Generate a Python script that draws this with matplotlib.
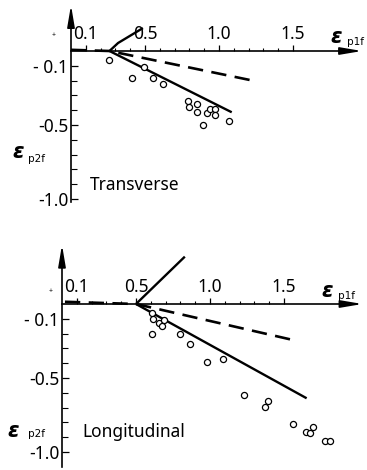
import matplotlib
matplotlib.use("Agg")
import matplotlib.pyplot as plt
import numpy as np

plt.rcParams['font.family'] = ['Noto Sans', 'DejaVu Sans']
plt.rcParams['font.stretch'] = 'condensed'
plt.rcParams['font.weight'] = 'light'

# Transverse panel (top)
tr_upper_x = [0.26, 0.318, 0.486]
tr_upper_y = [0.0, 0.054, 0.155]
tr_solid_x = [0.26, 1.086]
tr_solid_y = [0.0, -0.414]
tr_dash_x = [0.0, 0.26, 1.209]
tr_dash_y = [0.008, 0.0, -0.196]
tr_pts_x = [0.26, 0.41, 0.49, 0.556, 0.62, 0.79, 0.80, 0.85, 0.85, 0.89,
            0.92, 0.94, 0.97, 0.97, 1.07]
tr_pts_y = [-0.06, -0.18, -0.11, -0.18, -0.22, -0.34, -0.38, -0.36, -0.41, -0.50,
            -0.42, -0.39, -0.39, -0.43, -0.47]

# Longitudinal panel (bottom)
lo_upper_x = [0.5, 0.83]
lo_upper_y = [0.0, 0.32]
lo_solid_x = [0.5, 1.653]
lo_solid_y = [0.0, -0.637]
lo_dash_x = [0.02, 0.5, 1.56]
lo_dash_y = [0.015, 0.0, -0.243]
lo_pts_x = [0.61, 0.617, 0.657, 0.673, 0.691, 0.606, 0.797, 0.865, 0.977, 1.09,
            1.232, 1.372, 1.394, 1.563, 1.646, 1.676, 1.698, 1.777, 1.811]
lo_pts_y = [-0.063, -0.104, -0.126, -0.149, -0.108, -0.203, -0.205, -0.272, -0.39, -0.374,
            -0.615, -0.694, -0.655, -0.81, -0.867, -0.869, -0.829, -0.924, -0.924]

xmajor = [0.1, 0.5, 1.0, 1.5]
xmajor_labels = ['0.1', '0.5', '1.0', '1.5']
xminor = [0.2, 0.3, 0.4, 0.6, 0.7, 0.8, 0.9, 1.1, 1.2, 1.3, 1.4]
ymajor = [-0.1, -0.5, -1.0]
ymajor_labels = ['- 0.1', '-0.5', '-1.0']
yminor = [-0.2, -0.3, -0.4, -0.6, -0.7, -0.8, -0.9]

fig = plt.figure(figsize=(3.67, 4.70), dpi=100)
ax1 = fig.add_axes([0, 0.5, 1, 0.5])
ax1.set_xlim(-71 / 148, (367 - 71) / 148)
ax1.set_ylim((51 - 235) / 148, 51 / 148)
ax2 = fig.add_axes([0, 0, 1, 0.5])
ax2.set_xlim(-62 / 148, (367 - 62) / 148)
ax2.set_ylim((304 - 470) / 148, (304 - 235) / 148)


def setup(ax, xend, ytop, ybot):
    ax.patch.set_alpha(0)
    for s in ['right', 'bottom']:
        ax.spines[s].set_visible(False)
    ax.spines['top'].set_position(('data', 0))
    ax.spines['top'].set_bounds(0, xend - 0.1)
    ax.spines['left'].set_position(('data', 0))
    ax.spines['left'].set_bounds(ybot, ytop - 0.1)
    ax.spines['top'].set_linewidth(1.2)
    ax.spines['left'].set_linewidth(1.2)
    ax.xaxis.set_ticks_position('top')
    ax.yaxis.set_ticks_position('left')
    ax.set_xticks(xmajor, xmajor_labels)
    ax.set_xticks(xminor, minor=True)
    ax.set_yticks(ymajor, ymajor_labels)
    ax.set_yticks(yminor, minor=True)
    ax.tick_params(axis='x', which='major', direction='out', length=4, width=0.9,
                   pad=1.5, labelsize=12.5)
    ax.tick_params(axis='x', which='minor', direction='out', length=2.5, width=0.8)
    ax.tick_params(axis='y', which='major', direction='in', length=5, width=0.9,
                   pad=2, labelsize=12.5)
    ax.tick_params(axis='y', which='minor', direction='in', length=4, width=0.8)
    arrow = dict(arrowstyle='-|>,head_length=1.3,head_width=0.22', mutation_scale=10,
                 color='k', lw=1.2, shrinkA=0, shrinkB=0)
    ax.annotate('', xy=(xend, 0), xytext=(xend - 0.15, 0), arrowprops=arrow)
    ax.annotate('', xy=(0, ytop), xytext=(0, ytop - 0.15), arrowprops=arrow)


setup(ax1, 1.966, 0.31, -1.02)
setup(ax2, 2.03, 0.40, -1.10)

for ax, ux, uy, sx, sy, dx, dy, px, py in [
        (ax1, tr_upper_x, tr_upper_y, tr_solid_x, tr_solid_y, tr_dash_x, tr_dash_y, tr_pts_x, tr_pts_y),
        (ax2, lo_upper_x, lo_upper_y, lo_solid_x, lo_solid_y, lo_dash_x, lo_dash_y, lo_pts_x, lo_pts_y)]:
    ax.plot(ux, uy, color='k', lw=1.7, solid_capstyle='butt')
    ax.plot(sx, sy, color='k', lw=1.7, solid_capstyle='butt')
    ax.plot(dx, dy, color='k', lw=1.9, dashes=(5.8, 3.2))
    ax.plot(px, py, 'o', ms=4.4, mfc='white', mec='k', mew=0.9)

eps_font = dict(family='DejaVu Sans', fontweight='bold', style='italic',
                fontstretch='normal', fontsize=15)
sub_font = dict(family='DejaVu Sans', fontweight='normal', fontstretch='normal',
                fontsize=7.5)

# labels, top panel
ax1.text(1.755, 0.03, 'ε', ha='left', va='bottom', **eps_font)
ax1.text(1.865, 0.03, 'p1f', ha='left', va='bottom', **sub_font)
ax1.text(-0.395, -0.68, 'ε', ha='left', va='center', **eps_font)
ax1.text(-0.29, -0.73, 'p2f', ha='left', va='center', **sub_font)
ax1.text(0.128, -0.905, 'Transverse', ha='left', va='center', fontsize=12.5)
ax1.text(-0.12, 0.108, '+', ha='center', va='center', fontsize=5)

# labels, bottom panel
ax2.text(1.755, 0.02, 'ε', ha='left', va='bottom', **eps_font)
ax2.text(1.865, 0.02, 'p1f', ha='left', va='bottom', **sub_font)
ax2.text(-0.37, -0.86, 'ε', ha='left', va='center', **eps_font)
ax2.text(-0.23, -0.88, 'p2f', ha='left', va='center', **sub_font)
ax2.text(0.135, -0.865, 'Longitudinal', ha='left', va='center', fontsize=12.5)
ax2.text(-0.08, 0.083, '+', ha='center', va='center', fontsize=5)

fig.savefig('out.png', dpi=100)
